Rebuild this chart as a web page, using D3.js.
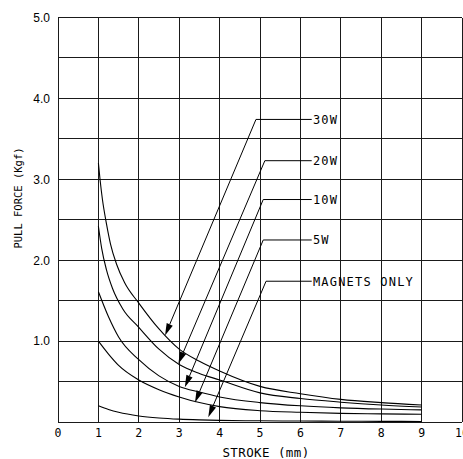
<!DOCTYPE html>
<html><head><meta charset="utf-8">
<script src="https://cdn.jsdelivr.net/npm/d3@7"></script>
<style>html,body{margin:0;padding:0;background:#fff;}svg{display:block;}</style>
</head><body>
<script>
// ---- data ----
const xTicks = [0,1,2,3,4,5,6,7,8,9,10];
const yTicks = [1,2,3,4,5];
const yTickLabels = ["1.0","2.0","3.0","4.0","5.0"];
const xTitle = "STROKE (mm)";
const yTitle = "PULL FORCE (Kgf)";

const strokeA  = [1, 1.04, 1.1, 1.2, 1.3, 1.45, 1.65, 2, 2.5, 3, 3.5, 4, 5, 6, 7, 8, 9];
const force30W = [3.2, 3.0, 2.75, 2.45, 2.2, 1.95, 1.72, 1.47, 1.15, 0.9, 0.75, 0.63, 0.44, 0.35, 0.28, 0.24, 0.21];
const strokeB  = [1, 1.08, 1.2, 1.35, 1.6, 2, 2.5, 3, 3.5, 4, 5, 6, 7, 8, 9];
const force20W = [2.42, 2.15, 1.88, 1.65, 1.4, 1.17, 0.9, 0.71, 0.6, 0.52, 0.36, 0.29, 0.245, 0.21, 0.185];
const strokeC  = [1, 1.25, 1.5, 2, 2.5, 3, 3.5, 4, 5, 6, 7, 8, 9];
const force10W = [1.61, 1.3, 1.05, 0.77, 0.57, 0.44, 0.37, 0.31, 0.24, 0.2, 0.175, 0.16, 0.15];
const force5W  = [1.0, 0.84, 0.7, 0.52, 0.4, 0.31, 0.24, 0.19, 0.14, 0.12, 0.107, 0.1, 0.095];
const forceMag = [0.2, 0.155, 0.12, 0.075, 0.05, 0.035, 0.026, 0.02, 0.015, 0.012, 0.01, 0.008, 0.007];

const labels   = ["30W","20W","10W","5W","MAGNETS ONLY"];
const elbowX   = [4.9, 5.12, 5.08, 5.08, 5.15];
const elbowY   = [3.74, 3.23, 2.75, 2.25, 1.74];
const tipX     = [2.65, 2.98, 3.14, 3.39, 3.72];
const tipY     = [1.07, 0.72, 0.43, 0.24, 0.06];
const leaderEndX = 6.28;
const labelX = 6.31;

// ---- drawing ----
const W = 463, H = 459;
const svg = d3.select("body").append("svg").attr("width", W).attr("height", H);
const x = d3.scaleLinear().domain([0,10]).range([58,462]);
const y = d3.scaleLinear().domain([0,5]).range([422,17.5]);

const grid = svg.append("g").attr("stroke","#1a1a1a").attr("stroke-width",1).attr("shape-rendering","crispEdges");
xTicks.forEach(t => grid.append("line").attr("x1",x(t)).attr("x2",x(t)).attr("y1",y(0)).attr("y2",y(5)));
d3.range(0, 5.01, 0.5).forEach(t => grid.append("line").attr("x1",x(0)).attr("x2",x(10)).attr("y1",y(t)).attr("y2",y(t)));

// y tick labels
svg.append("g").selectAll("text").data(yTicks).join("text")
  .attr("x", 50).attr("y", d => y(d)).attr("dy","0.36em")
  .attr("text-anchor","end").attr("font-family","Liberation Sans, Arial, sans-serif")
  .attr("font-size",12).attr("fill","#000").text((d,i)=>yTickLabels[i]);

// x tick labels
svg.append("g").selectAll("text").data(xTicks).join("text")
  .attr("x", d => x(d)).attr("y", 436.5)
  .attr("text-anchor","middle").attr("font-family","DejaVu Sans Mono, monospace")
  .attr("font-size",11.5).attr("fill","#000").text(d => d);

// titles
svg.append("text").attr("x", 266).attr("y", 456.5).attr("text-anchor","middle")
  .attr("font-family","DejaVu Sans Mono, monospace").attr("font-size",12.5)
  .attr("letter-spacing",0.4).attr("fill","#000").text(xTitle);
svg.append("text").attr("transform","translate(22,198) rotate(-90)").attr("text-anchor","middle")
  .attr("font-family","DejaVu Sans Mono, monospace").attr("font-size",10.5)
  .attr("fill","#000").text(yTitle);

// curves
const series = [
  [strokeA, force30W], [strokeB, force20W], [strokeC, force10W], [strokeC, force5W], [strokeC, forceMag]
];
const line = d3.line().x(d => x(d[0])).y(d => y(d[1])).curve(d3.curveMonotoneX);
series.forEach(([xs, ys]) => {
  svg.append("path").attr("d", line(xs.map((v,i)=>[v, ys[i]])))
    .attr("fill","none").attr("stroke","#000").attr("stroke-width",1.1);
});

// annotations
labels.forEach((lab, i) => {
  const ex = x(elbowX[i]), ey = y(elbowY[i]);
  const tx = x(tipX[i]), ty = y(tipY[i]);
  const g = svg.append("g");
  g.append("line").attr("x1", x(leaderEndX)).attr("y1", ey).attr("x2", ex).attr("y2", ey)
    .attr("stroke","#000").attr("stroke-width",1);
  const ang = Math.atan2(ty - ey, tx - ex);
  const L = 12, Wd = 3.3;
  const bx = tx - L*Math.cos(ang), by = ty - L*Math.sin(ang);
  g.append("line").attr("x1", ex).attr("y1", ey).attr("x2", bx).attr("y2", by)
    .attr("stroke","#000").attr("stroke-width",1);
  const px = -Math.sin(ang), py = Math.cos(ang);
  g.append("polygon").attr("points",
    [[tx,ty],[bx+px*Wd, by+py*Wd],[bx-px*Wd, by-py*Wd]].map(p=>p.join(",")).join(" "))
    .attr("fill","#000");
  g.append("text").attr("x", x(labelX)).attr("y", ey + 4.3)
    .attr("font-family","DejaVu Sans Mono, monospace").attr("font-size",12)
    .attr("letter-spacing",1.2).attr("fill","#000").text(lab);
});
</script>
</body></html>
